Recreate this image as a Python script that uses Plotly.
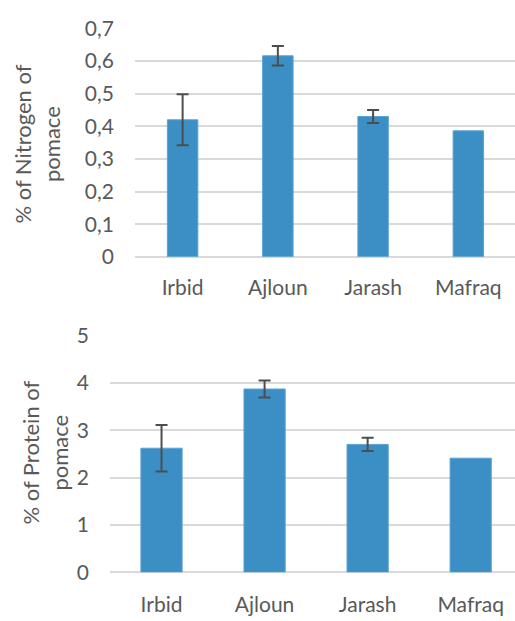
import plotly.graph_objects as go

# Pomace composition by governorate
regions = ["Irbid", "Ajloun", "Jarash", "Mafraq"]

nitrogen = [0.42, 0.616, 0.43, 0.386]
nitrogen_err = [0.078, 0.03, 0.02, None]

protein = [2.62, 3.87, 2.70, 2.41]
protein_err = [0.49, 0.18, 0.14, None]

nitrogen_ticks = [0, 0.1, 0.2, 0.3, 0.4, 0.5, 0.6, 0.7]
nitrogen_ticktext = ["0", "0,1", "0,2", "0,3", "0,4", "0,5", "0,6", "0,7"]
protein_ticks = [0, 1, 2, 3, 4, 5]

W, H = 515, 621
BAR = "#3b8fc5"
EDGE = "#5aa3d6"
ERR = "#4d4d4d"
GRID = "#d9d9d9"
TXT = "#595959"
FONT = "Lato"


def py(px):
    """Convert a pixel row (from top) to paper fraction."""
    return (H - px) / H


def add_panel(fig, values, errors, width, xa, ya):
    fig.add_trace(go.Bar(
        x=regions, y=values, xaxis=xa, yaxis=ya,
        marker=dict(color=BAR, line=dict(color=EDGE, width=1)),
        width=width, showlegend=False, hoverinfo="x+y",
    ))
    # error bars only where a deviation was measured
    idx = [i for i, e in enumerate(errors) if e is not None]
    fig.add_trace(go.Scatter(
        x=[regions[i] for i in idx], y=[values[i] for i in idx],
        xaxis=xa, yaxis=ya, mode="markers",
        marker=dict(size=1, color="rgba(0,0,0,0)"),
        error_y=dict(type="data", array=[errors[i] for i in idx],
                     visible=True, color=ERR, thickness=2, width=6),
        showlegend=False, hoverinfo="skip",
    ))


fig = go.Figure()
add_panel(fig, nitrogen, nitrogen_err, 0.32, "x", "y")
add_panel(fig, protein, protein_err, 0.4, "x2", "y2")

axis_font = dict(family=FONT, size=21, color=TXT)

fig.update_layout(
    width=W, height=H,
    margin=dict(l=0, r=0, t=0, b=0),
    paper_bgcolor="white", plot_bgcolor="white",
    font=dict(family=FONT, color=TXT),
    xaxis=dict(domain=[135 / W, 1], anchor="y", range=[-0.5, 3.49],
               showgrid=False, zeroline=False, showline=False, ticks="",
               tickfont=axis_font, ticklabelstandoff=16),
    yaxis=dict(domain=[py(253), py(15)], anchor="x", range=[0, 0.7],
               tickvals=nitrogen_ticks, ticktext=nitrogen_ticktext,
               showgrid=True, gridcolor=GRID, gridwidth=1.5,
               zeroline=True, zerolinecolor=GRID, zerolinewidth=1.5,
               showline=False, ticks="", tickfont=axis_font,
               ticklabelstandoff=20),
    xaxis2=dict(domain=[110 / W, 1], anchor="y2", range=[-0.5, 3.43],
                showgrid=False, zeroline=False, showline=False, ticks="",
                tickfont=axis_font, ticklabelstandoff=18),
    yaxis2=dict(domain=[py(581.7), py(335)], anchor="x2", range=[0, 5],
                tickvals=protein_ticks,
                showgrid=True, gridcolor=GRID, gridwidth=1.5,
                zeroline=True, zerolinecolor=GRID, zerolinewidth=1.5,
                showline=False, ticks="", tickfont=axis_font,
                ticklabelstandoff=20),
    annotations=[
        dict(text="% of Nitrogen of<br>pomace", textangle=-90,
             xref="paper", yref="paper", x=37 / W, y=py(135),
             xanchor="center", yanchor="middle", showarrow=False,
             font=dict(family=FONT, size=22, color=TXT)),
        dict(text="% of Protein of<br>pomace", textangle=-90,
             xref="paper", yref="paper", x=45 / W, y=py(457),
             xanchor="center", yanchor="middle", showarrow=False,
             font=dict(family=FONT, size=22, color=TXT)),
    ],
)

fig.write_html("out.html")
